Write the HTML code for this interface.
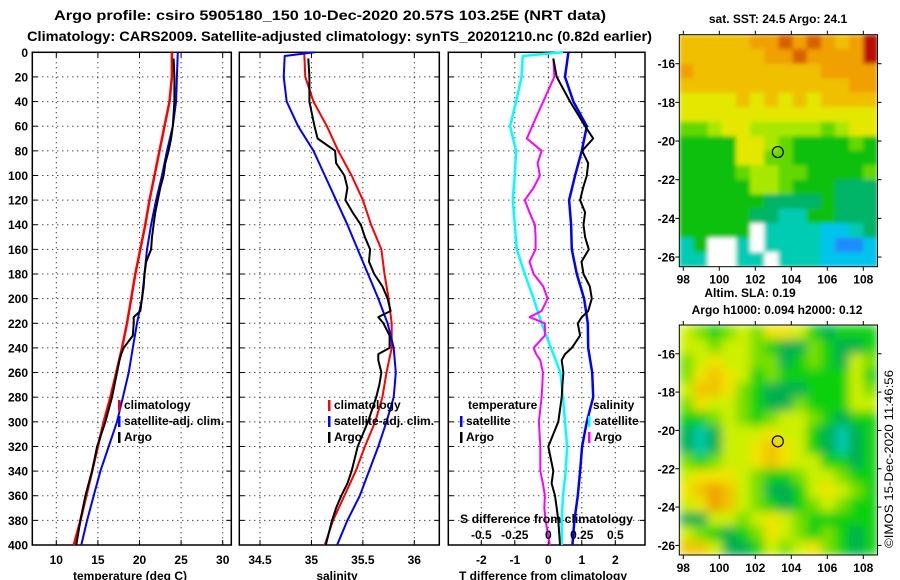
<!DOCTYPE html>
<html><head><meta charset="utf-8"><style>
html,body{margin:0;padding:0;background:#fff;}
svg{display:block;font-family:"Liberation Sans",Arial,sans-serif;}
.t{font-size:12px;font-weight:bold;fill:#000;}
.ti{font-size:14px;font-weight:bold;fill:#000;}
</style></head><body>
<svg id="chart" width="900" height="580" viewBox="0 0 900 580" xmlns="http://www.w3.org/2000/svg">
<defs>
<filter id="blurSla" x="0" y="0" width="1" height="1"><feGaussianBlur stdDeviation="5" edgeMode="duplicate"/></filter>
<filter id="blurSst" x="0" y="0" width="1" height="1"><feGaussianBlur stdDeviation="2" edgeMode="duplicate"/></filter>
<clipPath id="clipSst"><rect x="679.3" y="34.7" width="198.2" height="232"/></clipPath>
<clipPath id="clipSla"><rect x="679.3" y="325" width="198.2" height="230"/></clipPath>
</defs>
<text class="ti" x="54" y="20" textLength="552" lengthAdjust="spacingAndGlyphs">Argo profile: csiro 5905180_150 10-Dec-2020 20.57S 103.25E (NRT data)</text>
<text class="ti" x="27" y="41" textLength="625" lengthAdjust="spacingAndGlyphs">Climatology: CARS2009. Satellite-adjusted climatology: synTS_20201210.nc (0.82d earlier)</text>
<g id="g"></g>
</svg>
<script>
// ---- data ----
const depthStd = [0,20,40,60,80,100,120,140,160,180,200,220,240,260,280,300,320,340,360,380,400];
const depthSurf = [0,3,20,40,60,80,100,120,140,160,180,200,220,240,260,280,300,320,340,360,380,400];
const argoDepth = [5,20,40,60,70,80,90,100,110,120,130,140,150,160,170,180,190,200,210,215,220,230,240,245,250,260,270,280,300,320,340,350,360,370,380,400];
const tempClim = [23.9,23.9,23.6,23.0,22.4,21.8,21.2,20.7,20.1,19.5,19.0,18.5,17.9,17.2,16.5,15.7,15.0,14.3,13.6,12.9,12.1];
const tempSat = [24.6,24.5,24.4,24.0,23.3,22.7,22.0,21.4,20.9,20.6,20.3,19.7,19.2,18.7,18.0,17.3,16.3,15.3,14.5,13.7,13.0];
const tempArgo = [24.1,24.2,24.2,24.0,23.8,23.5,23.1,22.9,22.5,22.2,21.9,21.7,21.5,21.4,20.8,20.6,20.5,20.3,20.1,19.3,19.3,19.2,18.1,17.8,17.6,17.3,17.0,16.7,15.9,14.9,14.3,13.9,13.5,13.2,12.9,12.4];
const salClim = [34.93,34.94,35.02,35.15,35.26,35.39,35.50,35.58,35.68,35.71,35.75,35.78,35.78,35.73,35.69,35.62,35.52,35.43,35.32,35.21,35.13];
const salSat = [35.03,34.74,34.73,34.76,34.87,35.02,35.13,35.24,35.35,35.45,35.55,35.65,35.74,35.80,35.82,35.80,35.73,35.65,35.56,35.47,35.35,35.25];
const salArgo = [34.97,34.98,34.98,35.03,35.06,35.23,35.24,35.32,35.35,35.33,35.40,35.48,35.52,35.57,35.56,35.61,35.69,35.74,35.77,35.65,35.70,35.76,35.76,35.65,35.65,35.68,35.66,35.63,35.55,35.45,35.39,35.35,35.29,35.24,35.20,35.14];
const tDiffSat = [0.60,0.50,0.75,1.15,1.0,0.8,0.62,0.68,0.70,0.85,1.07,1.18,1.19,1.31,1.34,1.15,1.01,0.95,0.88,0.78,0.72];
const tDiffArgo = [0.15,0.25,0.65,1.1,1.34,1.01,1.19,1.15,1.04,0.95,1.1,1.05,1.1,1.21,0.99,1.05,1.24,1.30,1.19,1.0,0.88,0.95,0.7,0.5,0.40,0.45,0.42,0.4,0.30,0.0,0.15,0.1,0.2,0.25,0.3,0.35];
const sDiffSat = [0.11,-0.19,-0.2,-0.24,-0.285,-0.24,-0.25,-0.265,-0.25,-0.235,-0.175,-0.11,-0.05,0.02,0.09,0.11,0.125,0.14,0.13,0.11,0.10,0.10];
const sDiffArgo = [0.038,0.045,-0.038,-0.12,-0.16,-0.05,-0.08,-0.063,-0.11,-0.175,-0.14,-0.10,-0.095,-0.095,-0.14,-0.11,-0.038,-0.005,-0.05,-0.14,-0.025,-0.025,-0.11,-0.09,-0.06,-0.04,-0.045,-0.05,-0.07,-0.06,-0.06,-0.04,-0.025,-0.03,-0.02,0.012];
const depthTicks = [0,20,40,60,80,100,120,140,160,180,200,220,240,260,280,300,320,340,360,380,400];
const tempTicks = [10,15,20,25,30];
const salTicks = [34.5,35,35.5,36];
const tdTicks = [-2,-1,0,1,2];
const sdTicks = [-0.5,-0.25,0,0.25,0.5];
const sdTickLabels = ["-0.5","-0.25","0","0.25","0.5"];
const latTicks = [-16,-18,-20,-22,-24,-26];
const lonTicks = [98,100,102,104,106,108];
const argoLon = 103.25, argoLat = -20.57;
const sstTitle = "sat. SST: 24.5 Argo: 24.1";
const slaTitle = "Altim. SLA: 0.19";
const hTitle = "Argo h1000: 0.094 h2000: 0.12";
const sstGrid = [
"8888899a9a989b","88888899a9999b","98888888889999","88888888888899",
"77778787878888","77777777777777","55677666665677","44447765444454",
"44447755444444","44445665544445","44444665444333","44444433334333",
"44444332244333","44444w22221123","24ww2w22221001","22ww22w2221111"];
const slaGrid = [
"YLGLYLyyYGDGGG","YYLYYLGDDLGDDG","LYyYYLLDGLGDYL","LyOyYGLGGGGGYG",
"YOOyLGDDDGGGYL","LyYYLGDDLGGGYY","GGLYLGLYYLGDGG","DTDYYYyYYGDTDG",
"DTDYYyOyYGDTDG","LGLYYyOyYYGGDG","YyyyYLGGLYYLGG","yOROYLDDGYyYLG",
"YyROYLGDGLYLGG","DDYYLYyYLGGGGG","YLGDGLyYLGLGDG","OOYDDGYLYyLGDG"];
// ---- drawing ----
const NS="http://www.w3.org/2000/svg";
const G=document.getElementById('g');
function mk(tag,attrs,parent){const e=document.createElementNS(NS,tag);for(const k in attrs)e.setAttribute(k,attrs[k]);(parent||G).appendChild(e);return e;}
const yTop=52.3,yBot=545;
const yD=d=>yTop+(d-0)*(yBot-yTop)/400;
function lin(d0,d1,r0,r1){return v=>r0+(v-d0)*(r1-r0)/(d1-d0);}
const panels=[
 {name:'temperature-panel',x0:32.3,x1:231.3,sx:lin(10,30,56.3,222.7),ticks:tempTicks,title:'temperature (deg C)',tcx:130},
 {name:'salinity-panel',x0:239.3,x1:439.3,sx:lin(34.5,36,260,414.3),ticks:salTicks,title:'salinity',tcx:337},
 {name:'difference-panel',x0:448.3,x1:645,sx:lin(0,1,548.3,581.8),ticks:tdTicks,title:'T difference from climatology',tcx:543}
];
panels.forEach((p,pi)=>{
 const g=mk('g',{});
 
 
 depthTicks.forEach(d=>{ if(d>0&&d<400){const l=mk('line',{x1:p.x0,x2:p.x1,y1:yD(d),y2:yD(d),stroke:'#000','stroke-width':1,'stroke-dasharray':'1,4'},g);
  
  }
  const tk=mk('line',{x1:p.x0,x2:p.x0+5,y1:yD(d),y2:yD(d),stroke:'#000'},g);
  
  
  const tk2=mk('line',{x1:p.x1,x2:p.x1-5,y1:yD(d),y2:yD(d),stroke:'#000'},g);
  
  
 });
 p.ticks.forEach(v=>{const x=p.sx(v);
  const l=mk('line',{x1:x,x2:x,y1:yTop,y2:yBot,stroke:'#000','stroke-width':1,'stroke-dasharray':'1,4'},g);
  
  
  const t1=mk('line',{x1:x,x2:x,y1:yTop,y2:yTop+5,stroke:'#000'},g);
  
  
  const t2=mk('line',{x1:x,x2:x,y1:yBot,y2:yBot-5,stroke:'#000'},g);
  
  
  const tl=mk('text',{class:'t',x:x,y:564,'text-anchor':'middle'},g);tl.textContent=String(v);
  
  
 });
 const r=mk('rect',{x:p.x0,y:yTop,width:p.x1-p.x0,height:yBot-yTop,fill:'none',stroke:'#000','stroke-width':1.5},g);
 
 
 const at=mk('text',{class:'t',x:p.tcx,y:580,'text-anchor':'middle'},g);at.textContent=p.title;
 
 
});
depthTicks.forEach(d=>{const t=mk('text',{class:'t',x:28,y:yD(d)+4.5,'text-anchor':'end'});t.textContent=String(d);
 
 });
function series(depths,vals,sx,color,w,name){
 const pts=depths.map((d,i)=>sx(vals[i]).toFixed(1)+','+yD(d).toFixed(1)).join(' ');
 const pl=mk('polyline',{points:pts,fill:'none',stroke:color,'stroke-width':w,'stroke-linejoin':'round'});
 
 
}
const sT=panels[0].sx,sS=panels[1].sx,sD=panels[2].sx,sDS=v=>sD(v*4);
series(depthStd,tempClim,sT,'#f00',2.5,'temp-climatology-line');
series(depthStd,tempSat,sT,'#00f',2,'temp-satellite-line');
series(argoDepth,tempArgo,sT,'#000',2,'temp-argo-line');
series(depthStd,salClim,sS,'#f00',2,'sal-climatology-line');
series(depthSurf,salSat,sS,'#00f',2,'sal-satellite-line');
series(argoDepth,salArgo,sS,'#000',2,'sal-argo-line');
series(depthSurf,sDiffSat,sDS,'#0ff',2.5,'sdiff-satellite-line');
series(argoDepth,sDiffArgo,sDS,'#f0f',2,'sdiff-argo-line');
series(depthStd,tDiffSat,sD,'#00f',2.5,'tdiff-satellite-line');
series(argoDepth,tDiffArgo,sD,'#000',2,'tdiff-argo-line');
function legend(x,y,color,label,name){
 const g=mk('g',{});
 
 
 if(color){mk('rect',{x:x,y:y-9,width:2.5,height:11,fill:color},g);}
 const t=mk('text',{class:'t',x:x+(color?6:0),y:y},g);t.textContent=label;
}
legend(118,409,'#f00','climatology','legend-climatology');
legend(118,425,'#00f','satellite-adj. clim.','legend-satellite-adj');
legend(118,441,'#000','Argo','legend-argo');
legend(328,409,'#f00','climatology','legend-climatology-sal');
legend(328,425,'#00f','satellite-adj. clim.','legend-satellite-adj-sal');
legend(328,441,'#000','Argo','legend-argo-sal');
legend(468,409,null,'temperature','legend-temperature-heading');
legend(460,425,'#00f','satellite','legend-t-satellite');
legend(460,441,'#000','Argo','legend-t-argo');
legend(593,409,null,'salinity','legend-salinity-heading');
legend(588,425,'#0ff','satellite','legend-s-satellite');
legend(588,441,'#f0f','Argo','legend-s-argo');
const sdt=mk('text',{class:'t',x:460,y:523,textLength:173,lengthAdjust:'spacingAndGlyphs'});sdt.textContent='S difference from climatology';


sdTicks.forEach((v,i)=>{const t=mk('text',{class:'t',x:sDS(v),y:539,'text-anchor':'middle'});t.textContent=sdTickLabels[i];
 
 });
// maps
const sstCol={'0':'#1e8cff','1':'#00c4ec','2':'#00ccb4','3':'#00b468','4':'#10c010','5':'#64d800','6':'#a8e800','7':'#e4e800','8':'#f0c000','9':'#f0a000','a':'#d86000','b':'#b81000','w':'#ffffff'};
const slaCol={'D':'#00b050','T':'#00c8a8','G':'#10d010','L':'#78e000','Y':'#ccf000','y':'#f0e400','O':'#f0c400','R':'#f0a000'};
function map(name,y0,y1,grid,cols,filt,clip){
 const x0=679.3,x1=877.5;
 const g=mk('g',{});
 
 
 const cg=mk('g',{'clip-path':'url(#'+clip+')'},g);
 const inner=mk('g',{filter:'url(#'+filt+')'},cg);
 const nr=grid.length,nc=grid[0].length,cw=(x1-x0)/nc,ch=(y1-y0)/nr;
 grid.forEach((row,ri)=>{for(let ci=0;ci<nc;ci++){
  const c=mk('rect',{x:(x0+ci*cw).toFixed(2),y:(y0+ri*ch).toFixed(2),width:(cw+0.6).toFixed(2),height:(ch+0.6).toFixed(2),fill:cols[row[ci]]},inner);
  
  
 }});
 const lx=lin(98,108,683.3,863.3);
 const latY=v=>y0+(v-(-14.5))*(y1-y0)/(-26.5-(-14.5));
 latTicks.forEach(v=>{const y=latY(v);
  mk('line',{x1:x0,x2:x0-4,y1:y,y2:y,stroke:'#000'},g);
  mk('line',{x1:x1,x2:x1+4,y1:y,y2:y,stroke:'#000'},g);
  const t=mk('text',{class:'t',x:675,y:y+4.5,'text-anchor':'end'},g);t.textContent=String(v);
  
  });
 lonTicks.forEach(v=>{const x=lx(v);
  mk('line',{x1:x,x2:x,y1:y0,y2:y0-4,stroke:'#000'},g);
  mk('line',{x1:x,x2:x,y1:y1,y2:y1+4,stroke:'#000'},g);
  const t=mk('text',{class:'t',x:x,y:y1+17,'text-anchor':'middle'},g);t.textContent=String(v);
  
  });
 const fr=mk('rect',{x:x0,y:y0,width:x1-x0,height:y1-y0,fill:'none',stroke:'#000'},g);
 
 
 const m=mk('circle',{cx:lx(argoLon),cy:latY(argoLat),r:5.5,fill:'none',stroke:'#000','stroke-width':1.2},g);
 
 
}
map('sst-map',34.7,266.7,sstGrid,sstCol,'blurSst','clipSst');
map('sla-map',325,555,slaGrid,slaCol,'blurSla','clipSla');
function txt(x,y,s,name,anchor){const t=mk('text',{class:'t',x:x,y:y,'text-anchor':anchor||'middle'});t.textContent=s;
 
 return t;}
txt(778,23,sstTitle,'sst-map-title');
txt(750,297,slaTitle,'sla-map-title');
txt(777,314,hTitle,'argo-height-title');
const cr=mk('text',{x:0,y:0,'font-size':'12',fill:'#000',transform:'translate(893,548) rotate(-90)',textLength:178,lengthAdjust:'spacingAndGlyphs'});
cr.textContent='©IMOS 15-Dec-2020 11:46:56';


</script>
</body></html>
